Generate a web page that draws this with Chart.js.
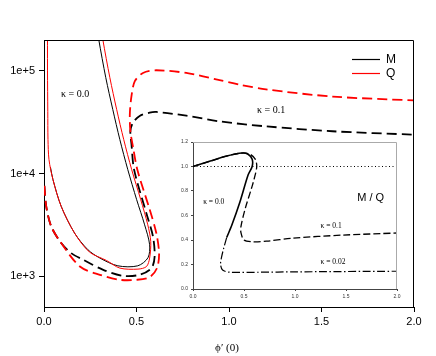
<!DOCTYPE html>
<html>
<head>
<meta charset="utf-8">
<script src="https://cdn.jsdelivr.net/npm/chart.js@4.4.1/dist/chart.umd.min.js"></script>
<style>
  html, body { margin: 0; padding: 0; background: #fff; }
  #wrap { position: relative; width: 436px; height: 356px; }
  #mainChart { position: absolute; left: 0; top: 0; }
  #insetChart { position: absolute; left: 172px; top: 136px; }
</style>
</head>
<body>
<div id="wrap">
  <canvas id="mainChart" width="436" height="356"></canvas>
  <canvas id="insetChart" width="232" height="166"></canvas>
</div>
<script>
// ----- main plot data (x = phi'(0), y = M or Q, log scale) -----
const seriesNames = ["M", "Q"];
const seriesColors = ["#000000", "#ff0000"];
const mainXTicks = [0, 0.5, 1, 1.5, 2];
const mainYTicks = [1e3, 1e4, 1e5];
const mainLabels = ["κ = 0.0", "κ = 0.1"];
const xTitle = "ϕ′ (0)";

// kappa = 0.0, M (solid black)
const mK0X = [0.035, 0.0485, 0.093, 0.165, 0.237, 0.302, 0.399, 0.507, 0.562, 0.571, 0.544, 0.501, 0.453, 0.41, 0.372, 0.334, 0.296, 0.28];
const mK0Y = [11500, 8710, 4780, 2630, 1810, 1500, 1260, 1260, 1510, 2020, 3160, 5550, 10900, 21400, 41900, 85900, 202000, 316000];

// kappa = 0.0, Q (solid red)
const qK0X = [0.019, 0.019, 0.0205, 0.0216, 0.027, 0.0485, 0.093, 0.165, 0.245, 0.338, 0.41, 0.508, 0.554, 0.571, 0.577, 0.561, 0.523, 0.474, 0.431, 0.393, 0.356, 0.318, 0.302];
const qK0Y = [316000, 100000, 40000, 21400, 13650, 8710, 4780, 2630, 1720, 1420, 1197, 1170, 1240, 1500, 2180, 3160, 5550, 10900, 21400, 41900, 85900, 202000, 316000];

// kappa = 0.1, M (dashed black)
const mK1X = [0.002, 0.012, 0.039, 0.093, 0.147, 0.212, 0.32, 0.427, 0.517, 0.581, 0.598, 0.589, 0.553, 0.487, 0.473, 0.467, 0.481, 0.517, 0.571, 0.607, 0.769, 0.949, 1.2, 1.559, 2.0];
const mK1Y = [7600, 4780, 3050, 2100, 1675, 1443, 1152, 1007, 1030, 1197, 1553, 2432, 4120, 10900, 19200, 26000, 31300, 36400, 39200, 39800, 36600, 32200, 28800, 25800, 23900];

// kappa = 0.1, Q (dashed red)
const qK1X = [0.002, 0.012, 0.039, 0.086, 0.194, 0.302, 0.41, 0.5, 0.571, 0.611, 0.622, 0.607, 0.571, 0.505, 0.482, 0.467, 0.464, 0.473, 0.491, 0.535, 0.607, 0.769, 0.949, 1.057, 1.2, 1.56, 2.0];
const qK1Y = [7600, 4780, 3050, 2190, 1240, 1030, 920, 920, 977, 1200, 1660, 2630, 4470, 10800, 17800, 25700, 38000, 57000, 79400, 95500, 101400, 95500, 81300, 73500, 66000, 56200, 51500];

// ----- inset data (M / Q ratio) -----
const insetXTicks = [0, 0.5, 1, 1.5, 2];
const insetYTicks = [0, 0.2, 0.4, 0.6, 0.8, 1.0, 1.2];
const insetLabels = ["κ = 0.0", "κ = 0.1", "κ = 0.02", "M / Q"];

const refX = [0, 2];
const refY = [1, 1];

const rK0X = [0, 0.17, 0.33, 0.48, 0.54, 0.58, 0.58, 0.54, 0.46, 0.38, 0.33];
const rK0Y = [1.0, 1.044, 1.085, 1.11, 1.10, 1.06, 1.0, 0.93, 0.71, 0.52, 0.42];

const rK02X = [0.33, 0.3, 0.28, 0.27, 0.29, 0.36, 0.66, 1.0, 2.0];
const rK02Y = [0.42, 0.33, 0.26, 0.2, 0.155, 0.137, 0.137, 0.14, 0.145];

const rK1X = [0, 0.17, 0.33, 0.48, 0.56, 0.61, 0.625, 0.6, 0.58, 0.51, 0.47, 0.47, 0.5, 0.59, 0.72, 0.98, 1.47, 2.0];
const rK1Y = [1.0, 1.044, 1.085, 1.11, 1.10, 1.06, 1.0, 0.9, 0.84, 0.65, 0.51, 0.46, 0.40, 0.385, 0.39, 0.415, 0.44, 0.457];

function toPoints(xs, ys) {
    return xs.map((x, i) => ({ x: x, y: ys[i] }));
}

document.addEventListener("DOMContentLoaded", function () {

    /*** ===========================
     *  MAIN CHART
     *  =========================== ***/
    const mainOverlay = {
        id: "mainOverlay",
        afterDraw(chart) {
            const ctx = chart.ctx;
            const a = chart.chartArea;
            ctx.save();
            // top + right side of the box (left/bottom come from the axes)
            ctx.strokeStyle = "#000";
            ctx.lineWidth = 1;
            ctx.beginPath();
            ctx.moveTo(Math.round(a.left), Math.round(a.top) + 0.5);
            ctx.lineTo(Math.round(a.right) - 0.5, Math.round(a.top) + 0.5);
            ctx.lineTo(Math.round(a.right) - 0.5, Math.round(a.bottom));
            ctx.stroke();

            // legend
            ctx.font = '12px "Liberation Sans", Arial, sans-serif';
            ctx.textBaseline = "middle";
            seriesNames.forEach((name, i) => {
                const ly = 59.5 + i * 14;
                ctx.strokeStyle = seriesColors[i];
                ctx.lineWidth = 1.2;
                ctx.beginPath();
                ctx.moveTo(352, ly);
                ctx.lineTo(380, ly);
                ctx.stroke();
                ctx.fillStyle = "#000";
                ctx.fillText(name, 386, ly + 0.5);
            });

            // kappa labels
            ctx.fillStyle = "#000";
            ctx.font = '10px "Liberation Serif", serif';
            ctx.fillText(mainLabels[0], 61, 94);
            ctx.fillText(mainLabels[1], 257, 110);

            // x title
            ctx.font = '11px "Liberation Serif", serif';
            ctx.textAlign = "center";
            ctx.fillText(xTitle, 227, 348);
            ctx.restore();
        }
    };

    const ctxMain = document.getElementById("mainChart").getContext("2d");
    new Chart(ctxMain, {
        type: "scatter",
        data: {
            datasets: [
                { label: "Q κ=0.0", data: toPoints(qK0X, qK0Y), borderColor: seriesColors[1], borderWidth: 1, order: 1 },
                { label: "M κ=0.0", data: toPoints(mK0X, mK0Y), borderColor: seriesColors[0], borderWidth: 1, order: 2 },
                { label: "Q κ=0.1", data: toPoints(qK1X, qK1Y), borderColor: seriesColors[1], borderWidth: 1.8, borderDash: [10, 5], order: 3 },
                { label: "M κ=0.1", data: toPoints(mK1X, mK1Y), borderColor: seriesColors[0], borderWidth: 1.8, borderDash: [10, 5], order: 4 }
            ].map(ds => Object.assign(ds, { showLine: true, pointRadius: 0, tension: 0.3, fill: false }))
        },
        options: {
            responsive: false,
            animation: false,
            devicePixelRatio: 1,
            layout: { padding: { top: 40, right: 22, left: 0, bottom: 0 } },
            plugins: {
                legend: { display: false },
                tooltip: { enabled: false }
            },
            scales: {
                x: {
                    type: "linear",
                    min: 0,
                    max: 2,
                    afterBuildTicks: s => { s.ticks = mainXTicks.map(v => ({ value: v })); },
                    afterFit: s => { s.height = 49; },
                    ticks: {
                        callback: v => v.toFixed(1),
                        color: "#000",
                        font: { family: '"Liberation Sans", Arial, sans-serif', size: 11 },
                        padding: 3,
                        maxRotation: 0
                    },
                    grid: { drawOnChartArea: false, drawTicks: true, tickLength: 5, color: "#000" },
                    border: { display: true, color: "#000" }
                },
                y: {
                    type: "logarithmic",
                    min: 500,
                    max: 200000,
                    afterBuildTicks: s => { s.ticks = mainYTicks.map(v => ({ value: v })); },
                    afterFit: s => { s.width = 44; },
                    ticks: {
                        callback: v => v.toExponential(0),
                        color: "#000",
                        font: { family: '"Liberation Sans", Arial, sans-serif', size: 11 },
                        padding: 4
                    },
                    grid: { drawOnChartArea: false, drawTicks: true, tickLength: 5, color: "#000" },
                    border: { display: true, color: "#000" }
                }
            }
        },
        plugins: [mainOverlay]
    });

    /*** ===========================
     *  INSET CHART (M / Q)
     *  =========================== ***/
    const insetOverlay = {
        id: "insetOverlay",
        afterDraw(chart) {
            const ctx = chart.ctx;
            const a = chart.chartArea;
            const x = chart.scales.x;
            const y = chart.scales.y;
            ctx.save();
            ctx.strokeStyle = "#aaa";
            ctx.lineWidth = 1;
            ctx.beginPath();
            ctx.moveTo(Math.round(a.left), Math.round(a.top) + 0.5);
            ctx.lineTo(Math.round(a.right) - 0.5, Math.round(a.top) + 0.5);
            ctx.lineTo(Math.round(a.right) - 0.5, Math.round(a.bottom));
            ctx.stroke();

            ctx.fillStyle = "#000";
            ctx.textBaseline = "middle";
            ctx.font = '7.5px "Liberation Serif", serif';
            ctx.fillText(insetLabels[0], x.getPixelForValue(0.1), y.getPixelForValue(0.71));
            ctx.fillText(insetLabels[1], x.getPixelForValue(1.25), y.getPixelForValue(0.517));
            ctx.fillText(insetLabels[2], x.getPixelForValue(1.25), y.getPixelForValue(0.223));
            ctx.font = '11px "Liberation Sans", Arial, sans-serif';
            ctx.fillText(insetLabels[3], x.getPixelForValue(1.61), y.getPixelForValue(0.745));
            ctx.restore();
        }
    };

    const ctxInset = document.getElementById("insetChart").getContext("2d");
    new Chart(ctxInset, {
        type: "scatter",
        data: {
            datasets: [
                { label: "ref", data: toPoints(refX, refY), borderColor: "#000", borderWidth: 1, borderDash: [1, 2.5], tension: 0 },
                { label: "κ=0.0", data: toPoints(rK0X, rK0Y), borderColor: "#000", borderWidth: 1.6, tension: 0.3 },
                { label: "κ=0.02", data: toPoints(rK02X, rK02Y), borderColor: "#000", borderWidth: 1.2, borderDash: [8, 2.5, 1.5, 2.5], tension: 0.3 },
                { label: "κ=0.1", data: toPoints(rK1X, rK1Y), borderColor: "#000", borderWidth: 1.3, borderDash: [7, 3], tension: 0.3 }
            ].map(ds => Object.assign(ds, { showLine: true, pointRadius: 0, fill: false }))
        },
        options: {
            responsive: false,
            animation: false,
            devicePixelRatio: 1,
            layout: { padding: { top: 6, right: 7, left: 0, bottom: 0 } },
            plugins: {
                legend: { display: false },
                tooltip: { enabled: false }
            },
            scales: {
                x: {
                    type: "linear",
                    min: 0,
                    max: 2,
                    afterBuildTicks: s => { s.ticks = insetXTicks.map(v => ({ value: v })); },
                    afterFit: s => { s.height = 13; },
                    ticks: {
                        callback: v => v.toFixed(1),
                        color: "#333",
                        font: { family: '"Liberation Sans", Arial, sans-serif', size: 5 },
                        padding: 3,
                        maxRotation: 0
                    },
                    grid: { drawOnChartArea: false, drawTicks: true, tickLength: 2, color: "#444" },
                    border: { display: true, color: "#444" }
                },
                y: {
                    type: "linear",
                    min: 0,
                    max: 1.2,
                    afterBuildTicks: s => { s.ticks = insetYTicks.map(v => ({ value: v })); },
                    afterFit: s => { s.width = 21; },
                    ticks: {
                        callback: v => v.toFixed(1),
                        color: "#333",
                        font: { family: '"Liberation Sans", Arial, sans-serif', size: 5 },
                        padding: 3
                    },
                    grid: { drawOnChartArea: false, drawTicks: true, tickLength: 2, color: "#444" },
                    border: { display: true, color: "#444" }
                }
            }
        },
        plugins: [insetOverlay]
    });

});
</script>
</body>
</html>
